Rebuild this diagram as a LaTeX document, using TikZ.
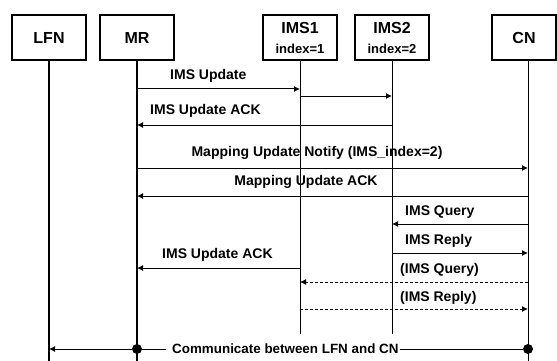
\documentclass[tikz,border=0pt]{standalone}
\usepackage{fontspec}
\setmainfont{Liberation Sans}
\usetikzlibrary{arrows.meta}

\begin{document}
\begin{tikzpicture}[x=1pt,y=-1pt,
  actor/.style={draw, line width=1.3pt, minimum width=74pt, minimum height=45pt,
    inner sep=0pt, align=center, font=\bfseries\fontsize{16}{20}\selectfont},
  life/.style={line width=1pt},
  msg/.style={line width=1pt, -{Latex[length=6pt,width=6pt]}},
  reply/.style={msg, dash pattern=on 3pt off 2pt},
  lbl/.style={font=\bfseries\fontsize{14}{16}\selectfont, inner sep=0pt},
  dot/.style={circle, fill, inner sep=0pt, minimum size=10pt},
]
\useasboundingbox (0,0) rectangle (557,361);

% participants
\node[actor] (lfn) at (49,37.5) {LFN};
\node[actor] (mr) at (137,37.5) {MR};
\node[actor] (ims1) at (300,37.5) {IMS1\\{\fontsize{13}{20}\selectfont index=1}};
\node[actor] (ims2) at (392,37.5) {IMS2\\{\fontsize{13}{20}\selectfont index=2}};
\node[actor, minimum width=64pt] (cn) at (524,37.5) {CN};
\coordinate (cnl) at ([xshift=4pt]cn.south);

% lifelines
\draw[life, line width=1.4pt] (lfn.south) -- (lfn |- 0,361);
\draw[life, line width=1.4pt] (mr.south) -- (mr |- 0,361);
\draw[life] (ims1.south) -- (ims1 |- 0,334);
\draw[life] (ims2.south) -- (ims2 |- 0,334);
\draw[life] (cnl) -- (cnl |- 0,361);

% IMS update towards both IMS servers
\draw[msg] (mr |- 0,89) -- (ims1 |- 0,89);
\node[lbl, anchor=west] (t1) at (170,76) {IMS Update};
\draw[msg] (ims1 |- 0,96) -- (ims2 |- 0,96);
\draw[msg] (ims2 |- 0,125) -- (mr |- 0,125);
\node[lbl, anchor=west] (t2) at (150,111) {IMS Update ACK};

% mapping update with the correspondent node
\draw[msg] (mr |- 0,168) -- (cnl |- 0,168);
\node[lbl] (t3) at (317,153) {Mapping Update Notify (IMS\_index=2)};
\draw[msg] (cnl |- 0,196) -- (mr |- 0,196);
\node[lbl] (t4) at (306,182) {Mapping Update ACK};

% queries
\draw[msg] (cnl |- 0,224) -- (ims2 |- 0,224);
\node[lbl, anchor=west] (t5) at (405,212) {IMS Query};
\draw[msg] (ims2 |- 0,253) -- (cnl |- 0,253);
\node[lbl, anchor=west] (t6) at (405,241) {IMS Reply};
\draw[msg] (ims1 |- 0,268) -- (mr |- 0,268);
\node[lbl, anchor=west] (t7) at (162,255) {IMS Update ACK};
\draw[reply] (cnl |- 0,282) -- (ims1 |- 0,282);
\node[lbl, anchor=west] (t8) at (400,270) {(IMS Query)};
\draw[reply] (ims1 |- 0,309) -- (cnl |- 0,309);
\node[lbl, anchor=west] (t9) at (400,298) {(IMS Reply)};

% end-to-end communication
\node[lbl, font=\bfseries\fontsize{13.4}{16}\selectfont, anchor=west] (comm) at (172,349) {Communicate between LFN and CN};
\node[dot] (dmr) at (mr |- comm) {};
\node[dot] (dcn) at (cnl |- comm) {};
\draw[msg] (dmr) -- (lfn |- comm);
\draw[line width=1pt] (dmr) -- ([xshift=-6pt]comm.west);
\draw[line width=1pt] ([xshift=1pt]comm.east) -- (dcn);
\end{tikzpicture}
\end{document}
